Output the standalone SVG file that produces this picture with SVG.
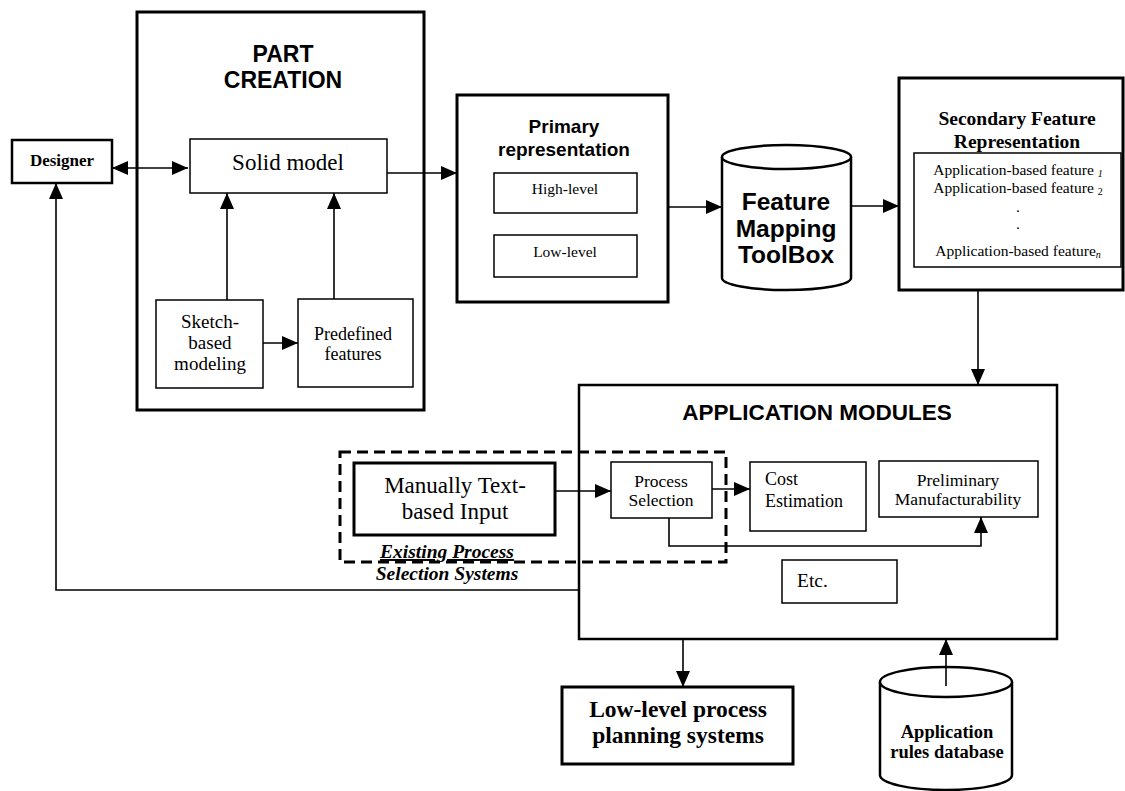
<svg xmlns="http://www.w3.org/2000/svg" width="1125" height="791" viewBox="0 0 1125 791">
<style>
.bx{fill:#fff;stroke:#000;stroke-width:1.5}
.thk{fill:#fff;stroke:#000;stroke-width:3}
.med{fill:#fff;stroke:#000;stroke-width:2.5}
.ln{fill:none;stroke:#000;stroke-width:1.6}
.sans{font-family:"Liberation Sans",Arial,sans-serif;font-weight:bold;fill:#000}
.ser{font-family:"Liberation Serif","Times New Roman",serif;fill:#000}
.b{font-weight:bold}
.m{text-anchor:middle}
</style>
<defs>
<marker id="ah" viewBox="0 0 16 14" refX="16" refY="7" markerWidth="16" markerHeight="14" markerUnits="userSpaceOnUse" orient="auto-start-reverse">
<path d="M0,0 L16,7 L0,14 z" fill="#000"/>
</marker>
</defs>
<rect width="1125" height="791" fill="#fff"/>

<g id="part-creation">
<rect class="thk" x="137" y="12" width="287" height="398"/>
<text class="sans m" x="283" y="62" font-size="23">PART</text>
<text class="sans m" x="283" y="88" font-size="23">CREATION</text>
</g>

<g id="designer">
<rect class="med" x="12" y="140" width="100" height="43"/>
<text class="ser b m" x="62" y="166" font-size="17">Designer</text>
</g>

<g id="solid-model">
<rect class="bx" x="190" y="139" width="197" height="54"/>
<text class="ser m" x="288" y="170" font-size="23">Solid model</text>
</g>

<g id="sketch">
<rect class="bx" x="156" y="300" width="107" height="88"/>
<text class="ser m" x="210" y="328" font-size="19">Sketch-</text>
<text class="ser m" x="210" y="349" font-size="19">based</text>
<text class="ser m" x="210" y="370" font-size="19">modeling</text>
</g>

<g id="predefined">
<rect class="bx" x="298" y="299" width="115" height="88"/>
<text class="ser m" x="353" y="340" font-size="18">Predefined</text>
<text class="ser m" x="353" y="360" font-size="18">features</text>
</g>

<g id="primary">
<rect class="thk" x="457" y="95" width="211" height="207"/>
<text class="sans m" x="564" y="133" font-size="19">Primary</text>
<text class="sans m" x="564" y="156" font-size="19">representation</text>
<rect class="bx" x="494" y="173" width="143" height="40"/>
<text class="ser m" x="565" y="194" font-size="15.5">High-level</text>
<rect class="bx" x="494" y="235" width="143" height="42"/>
<text class="ser m" x="565" y="257" font-size="15.5">Low-level</text>
</g>

<g id="feature-mapping">
<path d="M722,157 V278 A64.5,12 0 0 0 851,278 V157" fill="#fff" stroke="#000" stroke-width="2.5"/>
<ellipse cx="786.5" cy="157" rx="64.5" ry="12" fill="#fff" stroke="#000" stroke-width="2.5"/>
<text class="sans m" x="786" y="210" font-size="24.5">Feature</text>
<text class="sans m" x="786" y="237" font-size="24.5">Mapping</text>
<text class="sans m" x="786" y="263" font-size="24.5">ToolBox</text>
</g>

<g id="secondary">
<rect class="thk" x="899" y="78" width="224" height="212"/>
<text class="ser b m" x="1017" y="125" font-size="19.5">Secondary Feature</text>
<text class="ser b m" x="1017" y="148" font-size="19.5">Representation</text>
<rect class="bx" x="914" y="153" width="207" height="114"/>
<text class="ser m" x="1018" y="175" font-size="15.5">Application-based feature <tspan font-size="10" font-style="italic" dy="2">1</tspan></text>
<text class="ser m" x="1018" y="193" font-size="15.5">Application-based feature <tspan font-size="10" dy="2">2</tspan></text>
<text class="ser m" x="1018" y="212" font-size="15.5">.</text>
<text class="ser m" x="1018" y="229" font-size="15.5">.</text>
<text class="ser m" x="1018" y="256" font-size="15.5">Application-based feature<tspan font-size="10" font-style="italic" dy="2">n</tspan></text>
</g>

<g id="app-modules">
<rect class="med" x="579" y="385" width="478" height="254"/>
<text class="sans m" x="817" y="420" font-size="22.5">APPLICATION MODULES</text>
</g>

<g id="process-selection">
<rect class="bx" x="611" y="462" width="101" height="56"/>
<text class="ser m" x="661" y="487" font-size="17.5">Process</text>
<text class="ser m" x="661" y="506" font-size="17.5">Selection</text>
</g>

<g id="cost-estimation">
<rect class="bx" x="750" y="462" width="116" height="69"/>
<text class="ser" x="765" y="485" font-size="18">Cost</text>
<text class="ser" x="765" y="507" font-size="18">Estimation</text>
</g>

<g id="preliminary">
<rect class="bx" x="879" y="461" width="159" height="56"/>
<text class="ser m" x="958" y="486" font-size="17.5">Preliminary</text>
<text class="ser m" x="958" y="505" font-size="17.5">Manufacturability</text>
</g>

<g id="etc">
<rect class="bx" x="782" y="560" width="115" height="43"/>
<text class="ser" x="797" y="587" font-size="19.5">Etc.</text>
</g>

<g id="existing-systems">
<rect x="340" y="452" width="386" height="110" fill="none" stroke="#000" stroke-width="3" stroke-dasharray="11,6"/>
<rect class="thk" x="354" y="463" width="201" height="72"/>
<text class="ser m" x="455" y="493" font-size="23">Manually Text-</text>
<text class="ser m" x="455" y="519" font-size="23">based Input</text>
<text class="ser b m" x="447" y="558" font-size="19.5" font-style="italic" text-decoration="underline">Existing Process</text>
<text class="ser b m" x="447" y="580" font-size="19.5" font-style="italic">Selection Systems</text>
</g>

<g id="low-level-planning">
<rect class="thk" x="562" y="687" width="231" height="77"/>
<text class="ser b m" x="678" y="717" font-size="23.5">Low-level process</text>
<text class="ser b m" x="678" y="743" font-size="23.5">planning systems</text>
</g>

<g id="rules-db">
<path d="M880,682 V775 A66,15 0 0 0 1012,775 V682" fill="#fff" stroke="#000" stroke-width="2.5"/>
<ellipse cx="946" cy="682" rx="66" ry="15" fill="#fff" stroke="#000" stroke-width="2.5"/>
<text class="ser b m" x="947" y="738" font-size="18.5">Application</text>
<text class="ser b m" x="947" y="758" font-size="18.5">rules database</text>
</g>

<g id="connectors">
<path class="ln" d="M112,168 H188" marker-start="url(#ah)" marker-end="url(#ah)"/>
<path class="ln" d="M227,300 V193" marker-end="url(#ah)"/>
<path class="ln" d="M334,299 V193" marker-end="url(#ah)"/>
<path class="ln" d="M263,343 H298" marker-end="url(#ah)"/>
<path class="ln" d="M387,173 H457" marker-end="url(#ah)"/>
<path class="ln" d="M668,207 H722" marker-end="url(#ah)"/>
<path class="ln" d="M851,206 H899" marker-end="url(#ah)"/>
<path class="ln" d="M978,290 V385" marker-end="url(#ah)"/>
<path class="ln" d="M555,491 H611" marker-end="url(#ah)"/>
<path class="ln" d="M712,489 H750" marker-end="url(#ah)"/>
<path class="ln" d="M669,518 V546 H981 V517" marker-end="url(#ah)"/>
<path class="ln" d="M579,590 H56 V183" marker-end="url(#ah)"/>
<path class="ln" d="M683,639 V687" marker-end="url(#ah)"/>
<path class="ln" d="M946,686 V639" marker-end="url(#ah)"/>
</g>
</svg>
